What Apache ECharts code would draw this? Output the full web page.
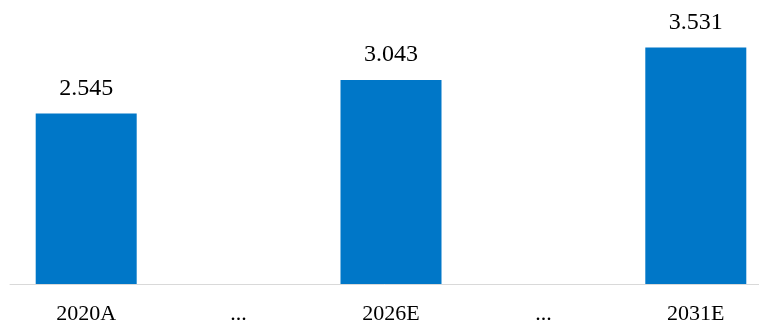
<!DOCTYPE html>
<html>
<head>
<meta charset="utf-8">
<script src="https://cdn.jsdelivr.net/npm/echarts@6/dist/echarts.min.js"></script>
<style>
  html, body { margin: 0; padding: 0; background: #fff; }
  #chart { width: 759px; height: 324px; }
</style>
</head>
<body>
<div id="chart"></div>
<script>
// categories and values
var categories = ['2020A', '...', '2026E', '...', '2031E'];
var values = [2.545, null, 3.043, null, 3.531];

var myChart = echarts.init(document.getElementById('chart'));
var option = {
    animation: false,
    grid: {
        top: 16,
        left: 10,
        width: 762,
        bottom: 40,
        containLabel: false,
        outerBoundsMode: 'none'
    },
    xAxis: {
        type: 'category',
        data: categories,
        axisLine: {
            show: true,
            lineStyle: { color: '#d9d9d9', width: 1 }
        },
        axisTick: { show: false },
        axisLabel: {
            color: '#000',
            fontFamily: 'Liberation Serif',
            fontSize: 22,
            margin: 19
        }
    },
    yAxis: {
        type: 'value',
        min: 0,
        max: 4,
        show: false,
        splitLine: { show: false }
    },
    series: [{
        type: 'bar',
        data: values,
        barWidth: 101,
        itemStyle: { color: '#0077c8' },
        label: {
            show: true,
            position: 'top',
            distance: 13,
            color: '#000',
            fontFamily: 'Liberation Serif',
            fontSize: 24,
            formatter: function (p) {
                return p.value.toFixed(3);
            }
        }
    }]
};
myChart.setOption(option);
</script>
</body>
</html>
